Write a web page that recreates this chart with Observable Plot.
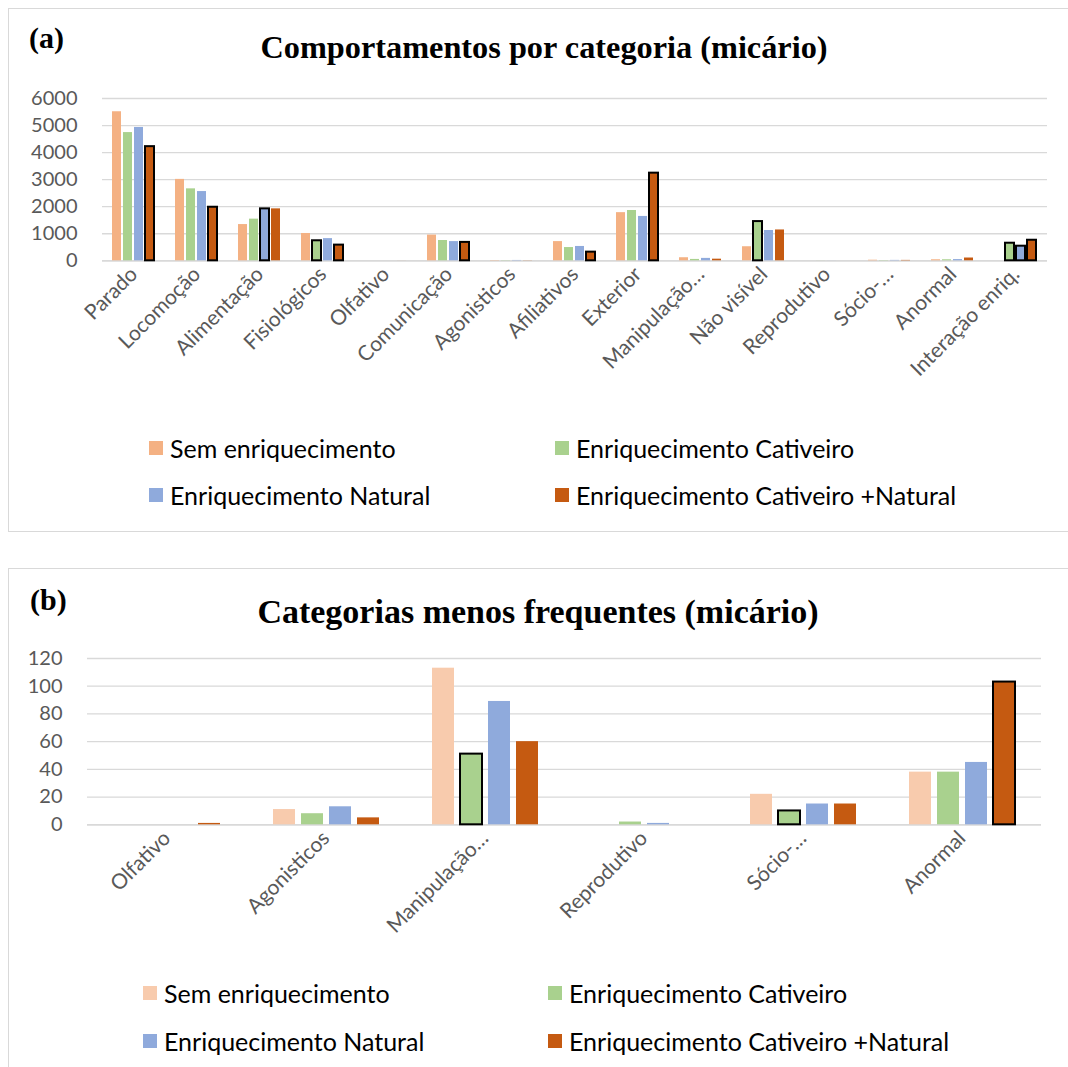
<!DOCTYPE html>
<html lang="pt">
<head>
<meta charset="utf-8">
<script src="https://cdn.jsdelivr.net/npm/d3@7"></script>
<script src="https://cdn.jsdelivr.net/npm/@observablehq/plot@0.6"></script>
<style>
  html, body { margin: 0; padding: 0; background: #fff; }
  #page { position: relative; width: 1068px; height: 1067px; overflow: hidden; background: #fff; }
  .panel { position: absolute; left: 8px; width: 1070px; box-sizing: border-box; border: 1px solid #d9d9d9; }
  .serif { position: absolute; font-family: "Liberation Serif", "Times New Roman", serif; font-weight: bold; color: #000; line-height: 1; white-space: nowrap; }
  .chart { position: absolute; left: 0; }
  .item { position: absolute; height: 30px; display: flex; align-items: center; font-family: Lato, "Open Sans", sans-serif; font-size: 25px; color: #000; white-space: nowrap; }
  .item span.sw { display: inline-block; width: 14px; height: 14px; margin-right: 7px; }
</style>
</head>
<body>
<div id="page">
  <div class="panel" style="top:8px;height:524px"></div>
  <div class="panel" style="top:568px;height:520px"></div>
</div>
<script>
// Categorias de comportamento do micário
const categorias = ["Parado", "Locomoção", "Alimentação", "Fisiológicos", "Olfativo", "Comunicação",
  "Agonisticos", "Afiliativos", "Exterior", "Manipulação…", "Não visível", "Reprodutivo",
  "Sócio-…", "Anormal", "Interação enriq."];
const categoriasMenos = ["Olfativo", "Agonisticos", "Manipulação…", "Reprodutivo", "Sócio-…", "Anormal"];

// Tratamentos
const series = ["Sem enriquecimento", "Enriquecimento Cativeiro", "Enriquecimento Natural",
  "Enriquecimento Cativeiro +Natural"];

// Frequências por tratamento, na ordem de `categorias`
const semEnriquecimento   = [5510, 3010, 1340, 1010, 0, 950, 11, 710, 1780, 113, 520, 0, 22, 38, 0];
const enrCativeiro        = [4740, 2660, 1540, 740, 0, 750, 8, 490, 1860, 51, 1450, 2, 10, 38, 650];
const enrNatural          = [4930, 2560, 1920, 820, 0, 710, 13, 530, 1640, 89, 1120, 1, 15, 45, 540];
const enrCativeiroNatural = [4220, 1980, 1920, 580, 1, 680, 5, 320, 3240, 60, 1140, 0, 15, 103, 760];

// Marcas do eixo y
const ticksA = [0, 1000, 2000, 3000, 4000, 5000, 6000];
const ticksB = [0, 20, 40, 60, 80, 100, 120];

// Barras com contorno (categoria, índice do tratamento)
const destaquesA = [["Parado", 3], ["Locomoção", 3], ["Alimentação", 2], ["Fisiológicos", 1],
  ["Fisiológicos", 3], ["Comunicação", 3], ["Afiliativos", 3], ["Exterior", 3], ["Não visível", 1],
  ["Interação enriq.", 1], ["Interação enriq.", 2], ["Interação enriq.", 3]];
const destaquesB = [["Manipulação…", 1], ["Sócio-…", 1], ["Anormal", 3]];

const coresA = ["#f4b183", "#a9d18e", "#8faadc", "#c55a11"];
const coresB = ["#f8cbad", "#a9d18e", "#8faadc", "#c55a11"];

// Tabela longa: uma linha por categoria x tratamento
const valores = [semEnriquecimento, enrCativeiro, enrNatural, enrCativeiroNatural];
const tabela = categorias.flatMap((c, i) =>
  series.map((s, j) => ({categoria: c, serie: s, valor: valores[j][i]})));

const page = document.getElementById("page");

function texto(cls, txt, style) {
  const el = document.createElement("div");
  el.className = cls;
  el.textContent = txt;
  Object.assign(el.style, style);
  page.appendChild(el);
  return el;
}

function grafico({cats, ticks, destaques, cores, top, marginLeft, marginRight, marginBottom, padInner}) {
  const dados = tabela.filter(d => cats.includes(d.categoria));
  const marcado = new Set(destaques.map(([c, j]) => c + "|" + series[j]));
  const destacados = dados.filter(d => marcado.has(d.categoria + "|" + d.serie));
  const chart = Plot.plot({
    width: 1068,
    height: 300,
    marginTop: 18,
    marginBottom,
    marginLeft,
    marginRight,
    style: {background: "transparent", color: "#595959", fontFamily: "Lato, 'Open Sans', sans-serif", overflow: "visible"},
    fx: {domain: cats, padding: 0, label: null},
    x: {domain: series, paddingInner: padInner, paddingOuter: 0.865, axis: null},
    y: {domain: [ticks[0], ticks[ticks.length - 1]], label: null},
    color: {domain: series, range: cores},
    marks: [
      Plot.gridY(ticks.slice(1), {stroke: "#d9d9d9", strokeOpacity: 1, strokeWidth: 1.3}),
      Plot.ruleY([0], {stroke: "#d9d9d9", strokeWidth: 1.8}),
      Plot.barY(dados, {fx: "categoria", x: "serie", y: "valor", fill: "serie"}),
      Plot.barY(destacados, {fx: "categoria", x: "serie", y: "valor", fill: "serie", stroke: "#000", strokeWidth: 2}),
      Plot.axisY(ticks, {tickSize: 0, tickPadding: 25, fontSize: 20, tickFormat: d => String(d), label: null}),
      Plot.axisFx({anchor: "bottom", tickSize: 0, tickPadding: 10, tickRotate: -45, fontSize: 21, label: null})
    ]
  });
  const wrap = document.createElement("div");
  wrap.className = "chart";
  wrap.style.top = top + "px";
  wrap.appendChild(chart);
  page.appendChild(wrap);
}

function legenda(cores, rows, squareX, col2X) {
  series.forEach((s, i) => {
    const el = document.createElement("div");
    el.className = "item";
    el.style.left = (i % 2 ? col2X : squareX) + "px";
    el.style.top = (rows[Math.floor(i / 2)] - 15) + "px";
    const sw = document.createElement("span");
    sw.className = "sw";
    sw.style.background = cores[i];
    el.appendChild(sw);
    el.appendChild(document.createTextNode(s));
    page.appendChild(el);
  });
}

// (a) todas as categorias
texto("serif", "(a)", {left: "29px", top: "23px", fontSize: "30px"});
texto("serif", "Comportamentos por categoria (micário)", {left: "544px", top: "31px", fontSize: "32.3px", transform: "translateX(-50%)"});
grafico({cats: categorias, ticks: ticksA, destaques: destaquesA, cores: coresA, top: 80,
  marginLeft: 96, marginRight: 15, marginBottom: 119.7, padInner: 0.15});
legenda(coresA, [448, 495], 149, 555);

// (b) categorias menos frequentes
texto("serif", "(b)", {left: "30px", top: "585px", fontSize: "30px"});
texto("serif", "Categorias menos frequentes (micário)", {left: "538px", top: "594.5px", fontSize: "34px", transform: "translateX(-50%)"});
grafico({cats: categoriasMenos, ticks: ticksB, destaques: destaquesB, cores: coresB, top: 640,
  marginLeft: 85, marginRight: 26, marginBottom: 115.7, padInner: 0.22});
legenda(coresB, [993, 1040.5], 143, 548);
</script>
</body>
</html>
